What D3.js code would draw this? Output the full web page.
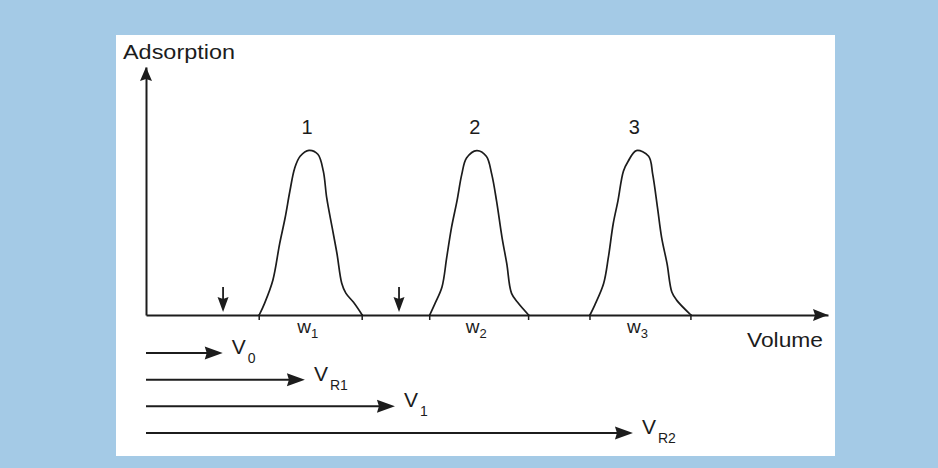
<!DOCTYPE html>
<html><head><meta charset="utf-8">
<script src="https://cdn.jsdelivr.net/npm/d3@7"></script>
<style>html,body{margin:0;padding:0;background:#a4cae6;}svg{display:block}</style>
</head><body>
<svg id="chart" width="938" height="468"></svg>
<script>
// ---- data (volume 0..100, adsorption 0..100) ----
const axisTitles = ["Adsorption", "Volume"];
const peakNames = ["1", "2", "3"];
const widthSubs = ["1", "2", "3"];

const peak1Vol = [16.6, 17.4, 18.6, 19.6, 20.4, 21.1, 21.8, 22.6, 23.9, 25.2, 26.0, 26.5, 27.3, 28.0, 28.7, 29.3, 30.4, 31.7];
const peak1Ads = [0, 4.8, 14, 28.8, 39.2, 50, 59.2, 64, 66.4, 64.8, 58, 47.2, 35.2, 24.8, 12.8, 8.8, 5.2, 0];

const peak2Vol = [41.6, 42.4, 43.4, 44.1, 44.8, 45.6, 46.3, 47.0, 48.5, 49.9, 50.7, 51.4, 52.2, 52.9, 53.6, 54.6, 56.1];
const peak2Ads = [0, 4.8, 11.3, 23.3, 35.3, 46, 56.7, 63.3, 66.3, 64, 56.7, 46, 31.3, 20.7, 8.7, 4.7, 0];

const peak3Vol = [65.1, 65.8, 67.1, 67.8, 68.5, 69.2, 70.0, 70.7, 71.9, 73.7, 74.3, 75.0, 75.6, 76.4, 77.1, 77.8, 79.9];
const peak3Ads = [0, 4, 12.7, 23.3, 36.7, 46, 58, 62, 66.3, 64, 56.7, 43.3, 31.3, 20.7, 9.3, 6, 0];

const markerVolumes = [11.3, 37.1];            // downward arrows
const rangeSymbols = ["V", "V", "V", "V"];
const rangeSubs = ["0", "R1", "1", "R2"];
const rangeEnds = [11.25, 23.3, 36.5, 71.4];    // arrow end volumes

// ---- drawing ----
const svg = d3.select("#chart");
const ink = "#1c1c1c";
const font = "'Liberation Sans', Arial, sans-serif";

svg.append("rect").attr("x", 0).attr("y", 0).attr("width", 938).attr("height", 468).attr("fill", "#a4cae6");
svg.append("rect").attr("x", 116).attr("y", 35).attr("width", 719).attr("height", 421).attr("fill", "#ffffff");

const x = d3.scaleLinear().domain([0, 100]).range([146, 828]);
const y = d3.scaleLinear().domain([0, 100]).range([315, 67]);
const row = d3.scalePoint().domain(rangeSubs).range([353, 433]);

// x axis (domain line only)
const gx = svg.append("g").attr("transform", `translate(0,${y(0)})`)
  .call(d3.axisBottom(x).tickValues([]).tickSizeOuter(0));
gx.select(".domain").attr("stroke", ink).attr("stroke-width", 2);
// y axis
const gy = svg.append("g").attr("transform", `translate(${x(0)},0)`)
  .call(d3.axisLeft(y).tickValues([]).tickSizeOuter(0));
gy.select(".domain").attr("stroke", ink).attr("stroke-width", 2);

// axis arrowheads
const xe = x(100), y0 = y(0);
svg.append("path").attr("d", `M${xe},${y0} L${xe - 15},${y0 - 6} L${xe - 13},${y0} L${xe - 15},${y0 + 6} Z`).attr("fill", ink);
const xa = x(0), yt = y(100);
svg.append("path").attr("d", `M${xa},${yt} L${xa - 6},${yt + 14} L${xa},${yt + 12} L${xa + 6},${yt + 14} Z`).attr("fill", ink);

// axis titles
svg.append("text").attr("x", 123).attr("y", 59).attr("font-family", font).attr("font-size", 21)
  .attr("fill", ink).attr("textLength", 112).attr("lengthAdjust", "spacingAndGlyphs").text(axisTitles[0]);
svg.append("text").attr("x", 747).attr("y", 347).attr("font-family", font).attr("font-size", 21)
  .attr("fill", ink).attr("textLength", 76).attr("lengthAdjust", "spacingAndGlyphs").text(axisTitles[1]);

// peaks
const peaks = [
  {name: peakNames[0], sub: widthSubs[0], vol: peak1Vol, ads: peak1Ads},
  {name: peakNames[1], sub: widthSubs[1], vol: peak2Vol, ads: peak2Ads},
  {name: peakNames[2], sub: widthSubs[2], vol: peak3Vol, ads: peak3Ads}
];
const line = d3.line().x(d => x(d[0])).y(d => y(d[1])).curve(d3.curveCatmullRom.alpha(0.5));
peaks.forEach(p => {
  const pts = p.vol.map((v, i) => [v, p.ads[i]]);
  svg.append("path").attr("d", line(pts)).attr("fill", "none").attr("stroke", ink).attr("stroke-width", 1.7);
  // base ticks
  [p.vol[0], p.vol[p.vol.length - 1]].forEach(v => {
    svg.append("line").attr("x1", x(v)).attr("x2", x(v)).attr("y1", y(0) - 1).attr("y2", y(0) + 5)
      .attr("stroke", ink).attr("stroke-width", 1.5);
  });
  // apex label
  const iMax = d3.maxIndex(p.ads);
  svg.append("text").attr("x", x(p.vol[iMax]) - 2).attr("y", 134).attr("text-anchor", "middle")
    .attr("font-family", font).attr("font-size", 20).attr("fill", ink).text(p.name);
  // width label
  const mid = (p.vol[0] + p.vol[p.vol.length - 1]) / 2;
  const t = svg.append("text").attr("x", x(mid) - 3).attr("y", 333).attr("text-anchor", "middle")
    .attr("font-family", font).attr("fill", ink);
  t.append("tspan").attr("font-size", 19).text("w");
  t.append("tspan").attr("font-size", 13).attr("dy", 5).text(p.sub);
});

// downward marker arrows
markerVolumes.forEach(v => {
  const cx = x(v), tip = y(0) - 3;
  svg.append("line").attr("x1", cx).attr("x2", cx).attr("y1", tip - 25).attr("y2", tip - 10)
    .attr("stroke", ink).attr("stroke-width", 1.8);
  svg.append("path").attr("d", `M${cx},${tip} L${cx - 5.5},${tip - 15} L${cx},${tip - 13} L${cx + 5.5},${tip - 15} Z`).attr("fill", ink);
});

// volume range arrows
rangeSubs.forEach((s, i) => {
  const ry = row(s), xe2 = x(rangeEnds[i]);
  svg.append("line").attr("x1", x(0)).attr("x2", xe2 - 10).attr("y1", ry).attr("y2", ry)
    .attr("stroke", ink).attr("stroke-width", 2);
  svg.append("path").attr("d", `M${xe2},${ry} L${xe2 - 18},${ry - 6.5} L${xe2 - 16},${ry} L${xe2 - 18},${ry + 6.5} Z`).attr("fill", ink);
  const t = svg.append("text").attr("x", xe2 + 9).attr("y", ry + 1).attr("font-family", font).attr("fill", ink);
  t.append("tspan").attr("font-size", 21).text(rangeSymbols[i]);
  t.append("tspan").attr("font-size", 14).attr("dx", 2).attr("dy", 9).text(s);
});
</script>
</body></html>
